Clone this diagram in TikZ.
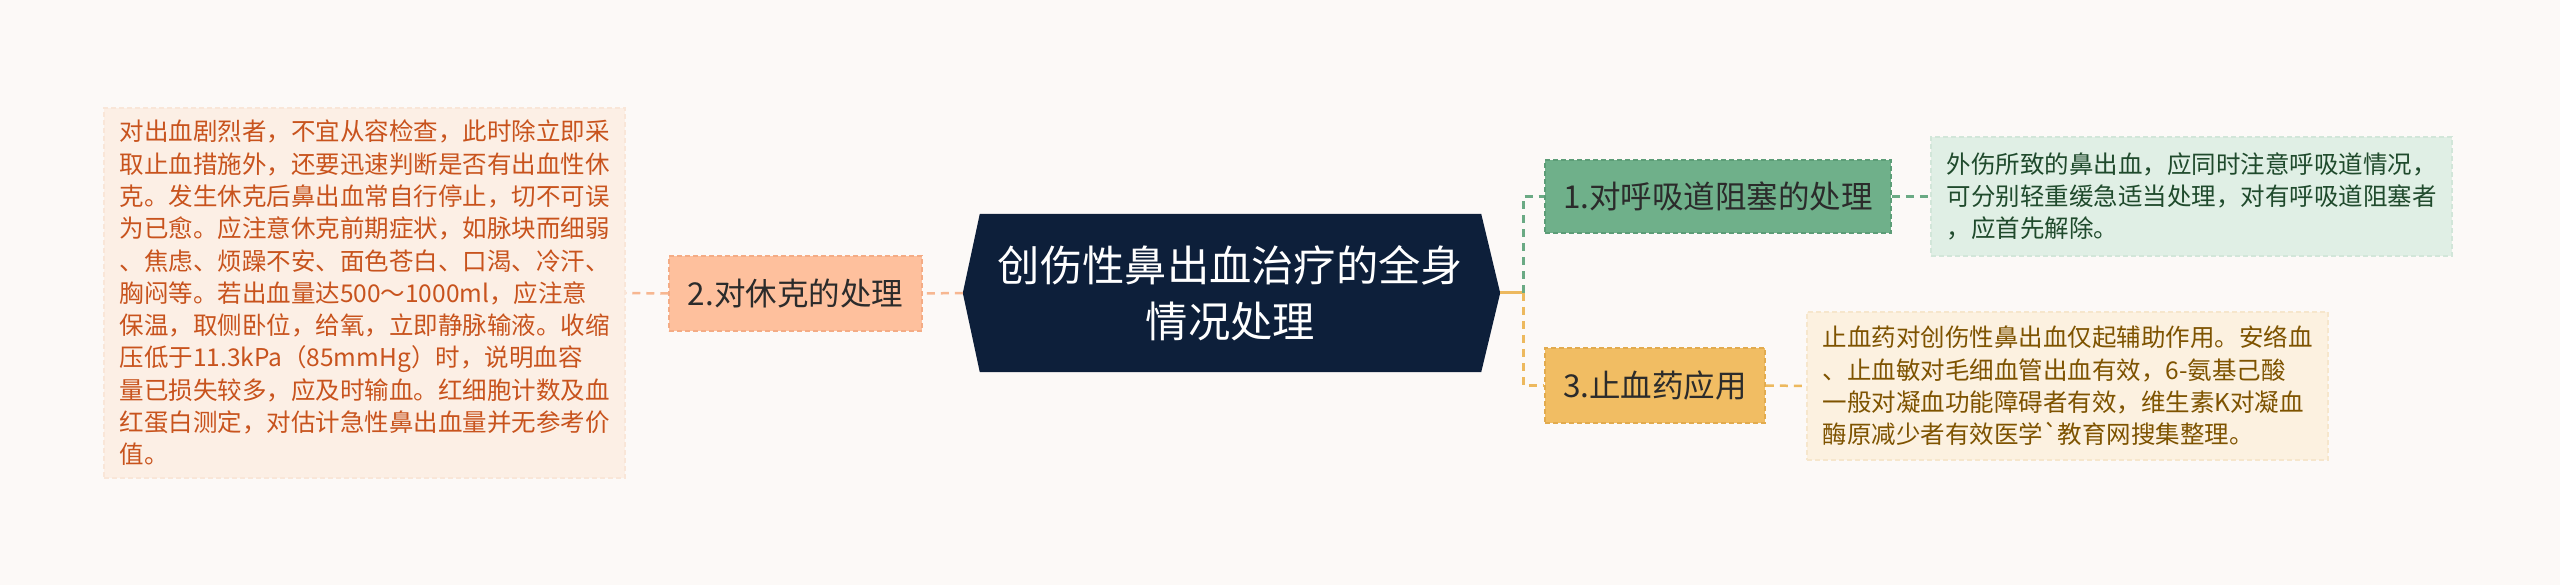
\documentclass[tikz,border=0pt]{standalone}
\usepackage{fontspec}
\setmainfont{Noto Sans CJK SC}[Ligatures=TeXOff]
\usetikzlibrary{backgrounds}
\definecolor{bgc}{HTML}{FCF9F7}
\definecolor{navy}{HTML}{0D1F3A}
\definecolor{salfill}{HTML}{FEC09D}
\definecolor{salbord}{HTML}{F4AC85}
\definecolor{salline}{HTML}{F7B791}
\definecolor{salnote}{HTML}{FCEFE5}
\definecolor{salnotebord}{HTML}{F9E6D8}
\definecolor{saltext}{HTML}{C8531D}
\definecolor{grnfill}{HTML}{6FB08A}
\definecolor{grnbord}{HTML}{5C9D77}
\definecolor{grnline}{HTML}{6AAA84}
\definecolor{grnnote}{HTML}{E0EFE5}
\definecolor{grnnotebord}{HTML}{D2E6D9}
\definecolor{grntext}{HTML}{1F4A2C}
\definecolor{ylwfill}{HTML}{F1BD63}
\definecolor{ylwbord}{HTML}{E2AB4E}
\definecolor{ylwline}{HTML}{EDB95E}
\definecolor{ylwnote}{HTML}{FCF1E0}
\definecolor{ylwnotebord}{HTML}{F6E6CC}
\definecolor{ylwtext}{HTML}{7E5300}
\definecolor{lvtext}{HTML}{2B2B2B}
\tikzset{
  lvbox/.style={rectangle, inner sep=0pt, line width=1.5pt, dash pattern=on 5pt off 3pt, text=lvtext, font=\fontsize{31.5}{38}\selectfont},
  notebox/.style={rectangle, inner sep=0pt, line width=1.2pt, dash pattern=on 5pt off 3pt, align=left, font=\fontsize{24.5}{32.3}\selectfont},
  conn/.style={line width=2.5pt, dash pattern=on 8pt off 6pt},
  trunkline/.style={line width=3pt, dash pattern=on 8pt off 6pt}
}
\begin{document}
\begin{tikzpicture}[x=1pt,y=-1pt]
\useasboundingbox (0,0) rectangle (2560,585);
% nodes
\node[minimum width=501pt, minimum height=158pt, inner sep=0pt, align=center, text=white,
      font=\fontsize{42.3}{56}\selectfont] (center) at (1230.5,293) {创伤性鼻出血治疗的全身\\情况处理};
\coordinate (ctl) at ([xshift=-17pt]center.west);
\coordinate (ctr) at ([xshift=19pt]center.east);
\node[lvbox, fill=salfill, draw=salbord, minimum width=253pt, minimum height=75pt] (n2) at (795.5,293.5) {2.对休克的处理};
\node[lvbox, fill=grnfill, draw=grnbord, minimum width=346pt, minimum height=73pt] (n1) at (1718,196.5) {1.对呼吸道阻塞的处理};
\node[lvbox, fill=ylwfill, draw=ylwbord, minimum width=220pt, minimum height=75pt] (n3) at (1655,385.5) {3.止血药应用};
\node[notebox, fill=salnote, draw=salnotebord, text=saltext, minimum width=521pt, minimum height=370pt] (note2) at (364.5,293) {对出血剧烈者，不宜从容检查，此时除立即采\\取止血措施外，还要迅速判断是否有出血性休\\克。发生休克后鼻出血常自行停止，切不可误\\为已愈。应注意休克前期症状，如脉块而细弱\\、焦虑、烦躁不安、面色苍白、口渴、冷汗、\\胸闷等。若出血量达500～1000ml，应注意\\保温，取侧卧位，给氧，立即静脉输液。收缩\\压低于11.3kPa（85mmHg）时，说明血容\\量已损失较多，应及时输血。红细胞计数及血\\红蛋白测定，对估计急性鼻出血量并无参考价\\值。};
\node[notebox, fill=grnnote, draw=grnnotebord, text=grntext, minimum width=521pt, minimum height=119pt] (note1) at (2191.5,196.5) {外伤所致的鼻出血，应同时注意呼吸道情况，\\可分别轻重缓急适当处理，对有呼吸道阻塞者\\，应首先解除。};
\node[notebox, fill=ylwnote, draw=ylwnotebord, text=ylwtext, minimum width=521pt, minimum height=148pt] (note3) at (2067.5,386) {止血药对创伤性鼻出血仅起辅助作用。安络血\\、止血敏对毛细血管出血有效，6-氨基己酸\\一般对凝血功能障碍者有效，维生素K对凝血\\酶原减少者有效医学`教育网搜集整理。};
\coordinate (trunk) at (1523,293);
% background and center shape
\begin{scope}[on background layer]
  \fill[bgc] (0,0) rectangle (2560,585);
  \fill[navy] (center.north west) -- (center.north east) -- (ctr) -- (center.south east) -- (center.south west) -- (ctl) -- cycle;
  % connectors
  \draw[conn, salline] (ctl) -- (n2.east);
  \draw[conn, salline] (n2.west) -- (note2.east);
  \draw[line width=3pt, ylwline] (ctr) -- (trunk);
  \draw[trunkline, grnline] (trunk) |- (n1.west);
  \draw[trunkline, ylwline] (trunk) |- (n3.west);
  \draw[conn, grnline] (n1.east) -- (note1.west);
  \draw[conn, ylwline] (n3.east) -- (note3.west);
\end{scope}
\end{tikzpicture}
\end{document}
